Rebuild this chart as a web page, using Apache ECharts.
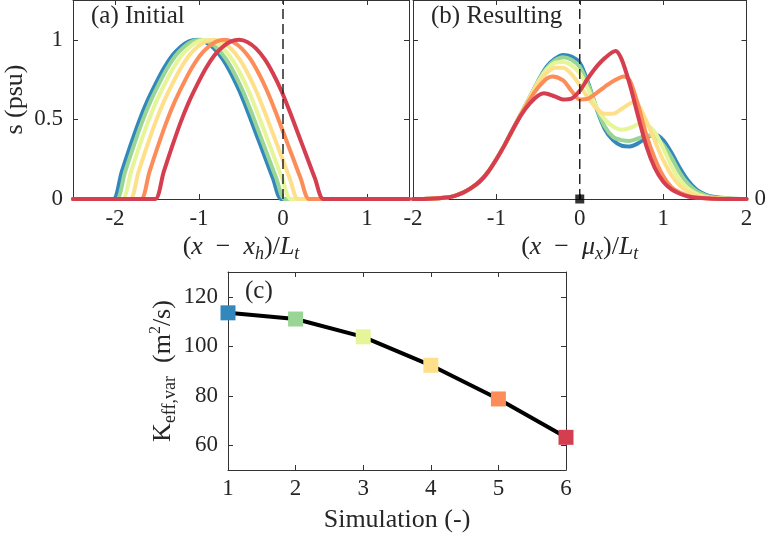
<!DOCTYPE html>
<html><head><meta charset="utf-8">
<script src="https://cdn.jsdelivr.net/npm/echarts@6/dist/echarts.min.js"></script>
<style>html,body{margin:0;padding:0;background:#fff}#c{width:769px;height:536px}</style>
</head><body><div id="c"></div>
<script>
// ---------- data ----------
const colors = ['#3288bd', '#99d594', '#e6f598', '#fee08b', '#fc8d59', '#d53e4f'];

// panel (a): initial salinity profiles, [x, s]
const initBlue = [[-2.5,0],[-2.12,0],[-2.02,0],[-1.92,0.17],[-1.82,0.33],[-1.72,0.48],[-1.62,0.61],[-1.52,0.72],[-1.42,0.82],[-1.32,0.9],[-1.22,0.955],[-1.12,0.99],[-1.02,1],[-0.92,0.985],[-0.82,0.945],[-0.72,0.88],[-0.62,0.79],[-0.52,0.68],[-0.42,0.55],[-0.32,0.41],[-0.22,0.27],[-0.12,0.13],[-0.02,0],[0.08,0],[1.5,0]];
const initGreen = [[-2.5,0],[-2.08,0],[-1.98,0],[-1.88,0.17],[-1.78,0.33],[-1.68,0.48],[-1.58,0.61],[-1.48,0.72],[-1.38,0.82],[-1.28,0.9],[-1.18,0.955],[-1.08,0.99],[-0.98,1],[-0.88,0.985],[-0.78,0.945],[-0.68,0.88],[-0.58,0.79],[-0.48,0.68],[-0.38,0.55],[-0.28,0.41],[-0.18,0.27],[-0.08,0.13],[0.02,0],[0.12,0],[1.5,0]];
const initLime = [[-2.5,0],[-2.01,0],[-1.91,0],[-1.81,0.17],[-1.71,0.33],[-1.61,0.48],[-1.51,0.61],[-1.41,0.72],[-1.31,0.82],[-1.21,0.9],[-1.11,0.955],[-1.01,0.99],[-0.91,1],[-0.81,0.985],[-0.71,0.945],[-0.61,0.88],[-0.51,0.79],[-0.41,0.68],[-0.31,0.55],[-0.21,0.41],[-0.11,0.27],[-0.01,0.13],[0.09,0],[0.19,0],[1.5,0]];
const initYellow = [[-2.5,0],[-1.92,0],[-1.82,0],[-1.72,0.17],[-1.62,0.33],[-1.52,0.48],[-1.42,0.61],[-1.32,0.72],[-1.22,0.82],[-1.12,0.9],[-1.02,0.955],[-0.92,0.99],[-0.82,1],[-0.72,0.985],[-0.62,0.945],[-0.52,0.88],[-0.42,0.79],[-0.32,0.68],[-0.22,0.55],[-0.12,0.41],[-0.02,0.27],[0.08,0.13],[0.18,0],[0.28,0],[1.5,0]];
const initOrange = [[-2.5,0],[-1.79,0],[-1.69,0],[-1.59,0.17],[-1.49,0.33],[-1.39,0.48],[-1.29,0.61],[-1.19,0.72],[-1.09,0.82],[-0.99,0.9],[-0.89,0.955],[-0.79,0.99],[-0.69,1],[-0.59,0.985],[-0.49,0.945],[-0.39,0.88],[-0.29,0.79],[-0.19,0.68],[-0.09,0.55],[0.01,0.41],[0.11,0.27],[0.21,0.13],[0.31,0],[0.41,0],[1.5,0]];
const initRed = [[-2.5,0],[-1.62,0],[-1.52,0],[-1.42,0.17],[-1.32,0.33],[-1.22,0.48],[-1.12,0.61],[-1.02,0.72],[-0.92,0.82],[-0.82,0.9],[-0.72,0.955],[-0.62,0.99],[-0.52,1],[-0.42,0.985],[-0.32,0.945],[-0.22,0.88],[-0.12,0.79],[-0.02,0.68],[0.08,0.55],[0.18,0.41],[0.28,0.27],[0.38,0.13],[0.48,0],[0.58,0],[1.5,0]];

// panel (b): resulting salinity profiles, [x, s]
const resBlue = [[-2,0],[-1.8,0.002],[-1.6,0.01],[-1.5,0.02],[-1.4,0.04],[-1.3,0.07],[-1.2,0.11],[-1.1,0.17],[-1.0,0.25],[-0.9,0.34],[-0.8,0.44],[-0.7,0.54],[-0.6,0.64],[-0.5,0.74],[-0.4,0.83],[-0.3,0.88],[-0.2,0.905],[-0.1,0.895],[0,0.855],[0.1,0.73],[0.2,0.57],[0.3,0.44],[0.4,0.37],[0.5,0.335],[0.6,0.33],[0.7,0.35],[0.8,0.385],[0.9,0.405],[1.0,0.37],[1.1,0.29],[1.2,0.195],[1.3,0.115],[1.4,0.06],[1.5,0.03],[1.6,0.014],[1.8,0.003],[2.0,0]];
const resGreen = [[-2,0],[-1.8,0.002],[-1.6,0.01],[-1.5,0.02],[-1.4,0.04],[-1.3,0.07],[-1.2,0.11],[-1.1,0.17],[-1.0,0.25],[-0.9,0.34],[-0.8,0.44],[-0.7,0.54],[-0.6,0.64],[-0.5,0.74],[-0.4,0.82],[-0.3,0.87],[-0.2,0.89],[-0.1,0.875],[0,0.83],[0.1,0.72],[0.2,0.575],[0.3,0.455],[0.4,0.39],[0.5,0.37],[0.6,0.365],[0.7,0.38],[0.8,0.4],[0.9,0.39],[1.0,0.34],[1.1,0.26],[1.2,0.165],[1.3,0.095],[1.4,0.05],[1.5,0.025],[1.6,0.011],[1.8,0.002],[2.0,0]];
const resLime = [[-2,0],[-1.8,0.002],[-1.6,0.01],[-1.5,0.02],[-1.4,0.04],[-1.3,0.07],[-1.2,0.11],[-1.1,0.17],[-1.0,0.25],[-0.9,0.34],[-0.8,0.44],[-0.7,0.54],[-0.6,0.64],[-0.5,0.735],[-0.4,0.81],[-0.3,0.855],[-0.2,0.86],[-0.1,0.84],[0,0.79],[0.1,0.69],[0.2,0.58],[0.3,0.5],[0.4,0.455],[0.5,0.435],[0.6,0.445],[0.7,0.47],[0.75,0.476],[0.8,0.47],[0.9,0.42],[1.0,0.32],[1.1,0.205],[1.2,0.12],[1.3,0.065],[1.4,0.033],[1.5,0.015],[1.6,0.007],[1.8,0.001],[2.0,0]];
const resYellow = [[-2,0],[-1.8,0.002],[-1.6,0.01],[-1.5,0.02],[-1.4,0.04],[-1.3,0.07],[-1.2,0.11],[-1.1,0.17],[-1.0,0.25],[-0.9,0.34],[-0.8,0.44],[-0.7,0.54],[-0.6,0.635],[-0.5,0.725],[-0.4,0.79],[-0.3,0.825],[-0.2,0.825],[-0.1,0.785],[0,0.715],[0.1,0.635],[0.2,0.57],[0.3,0.535],[0.4,0.535],[0.5,0.565],[0.6,0.6],[0.65,0.61],[0.7,0.595],[0.8,0.49],[0.9,0.365],[1.0,0.245],[1.1,0.15],[1.2,0.085],[1.3,0.045],[1.4,0.022],[1.5,0.01],[1.6,0.004],[1.8,0.001],[2.0,0]];
const resOrange = [[-2,0],[-1.8,0.002],[-1.6,0.01],[-1.5,0.02],[-1.4,0.04],[-1.3,0.07],[-1.2,0.11],[-1.1,0.17],[-1.0,0.25],[-0.9,0.34],[-0.8,0.44],[-0.7,0.535],[-0.6,0.625],[-0.5,0.7],[-0.4,0.755],[-0.33,0.77],[-0.2,0.745],[-0.1,0.68],[0,0.625],[0.1,0.63],[0.2,0.665],[0.3,0.705],[0.4,0.74],[0.53,0.77],[0.6,0.745],[0.7,0.59],[0.8,0.4],[0.9,0.255],[1.0,0.145],[1.1,0.075],[1.2,0.04],[1.3,0.02],[1.4,0.01],[1.6,0.002],[2.0,0]];
const resRed = [[-2,0],[-1.8,0.002],[-1.6,0.01],[-1.5,0.02],[-1.4,0.04],[-1.3,0.07],[-1.2,0.11],[-1.1,0.17],[-1.0,0.25],[-0.9,0.34],[-0.8,0.44],[-0.7,0.53],[-0.6,0.6],[-0.5,0.65],[-0.43,0.665],[-0.3,0.645],[-0.2,0.625],[-0.1,0.63],[0,0.68],[0.1,0.76],[0.2,0.83],[0.3,0.885],[0.43,0.93],[0.5,0.88],[0.6,0.72],[0.7,0.52],[0.8,0.33],[0.9,0.195],[1.0,0.11],[1.1,0.06],[1.2,0.033],[1.3,0.016],[1.4,0.008],[1.6,0.002],[2.0,0]];

// reference lines / markers
const dashA = [[0,0],[0,1.25]];
const dashB = [[0,0],[0,1.25]];
const centerMark = [[0,0]];

// panel (c)
const simulations = [1, 2, 3, 4, 5, 6];
const keffVar = [113.5, 111, 103.8, 92.3, 78.7, 63.2];

// ticks
const ticksAx = [-2, -1, 0, 1];
const ticksBx = [-2, -1, 0, 1, 2];
const ticksSy = [0, 0.5, 1];
const ticksBright = [0];
const ticksCx = [1, 2, 3, 4, 5, 6];
const ticksCy = [60, 80, 100, 120];

// ---------- chart ----------
const FONT = '"Liberation Serif", serif';
const TXT = '#262626';
const AX = '#333333';
const chart = echarts.init(document.getElementById('c'), null, {renderer: 'canvas'});

function axLine() { return {show: true, onZero: false, lineStyle: {color: AX, width: 1}}; }
function tick(vals) { return {show: true, inside: true, length: 5, customValues: vals, lineStyle: {color: AX, width: 1}}; }
function lab(vals, margin, show) {
  return {show: show, customValues: vals, margin: margin, fontFamily: FONT, fontSize: 23, color: TXT,
          formatter: v => String(v)};
}
const richMath = {
  i: {fontFamily: FONT, fontStyle: 'italic', fontSize: 26, color: TXT, lineHeight: 32},
  r: {fontFamily: FONT, fontSize: 26, color: TXT, lineHeight: 32},
  s: {fontFamily: FONT, fontStyle: 'italic', fontSize: 18, color: TXT, lineHeight: 32, verticalAlign: 'bottom'}
};
const richK = {
  r: {fontFamily: FONT, fontSize: 26, color: TXT, lineHeight: 32},
  s: {fontFamily: FONT, fontSize: 18, color: TXT, lineHeight: 32, verticalAlign: 'bottom'},
  p: {fontFamily: FONT, fontSize: 16, color: TXT, lineHeight: 32, verticalAlign: 'top'}
};

function curve(data, color, xi, yi) {
  return {type: 'line', data: data, xAxisIndex: xi, yAxisIndex: yi, symbol: 'none', smooth: 0.3,
          lineStyle: {color: color, width: 4, cap: 'round', join: 'round'}, silent: true, z: 3};
}
function dashLine(data, xi, yi) {
  return {type: 'line', data: data, xAxisIndex: xi, yAxisIndex: yi, symbol: 'none',
          lineStyle: {color: '#262626', width: 1.5, type: [10, 5]}, silent: true, z: 5};
}

const option = {
  animation: false,
  backgroundColor: '#ffffff',
  textStyle: {fontFamily: FONT},
  grid: [
    {left: 73, top: 0, width: 336, height: 199, containLabel: false},
    {left: 413, top: 0, width: 336, height: 199, containLabel: false},
    {left: 228, top: 272, width: 338, height: 198, containLabel: false}
  ],
  xAxis: [
    {type: 'value', gridIndex: 0, position: 'bottom', min: -2.5, max: 1.5,
     axisLine: axLine(), axisTick: tick(ticksAx), axisLabel: lab(ticksAx, 8, true), splitLine: {show: false},
     name: '{r|(}{i|x}{r|  −  }{i|x}{s|h}{r|)/}{i|L}{s|t}', nameLocation: 'middle', nameGap: 32,
     nameTextStyle: {rich: richMath}},
    {type: 'value', gridIndex: 0, position: 'top', min: -2.5, max: 1.5,
     axisLine: axLine(), axisTick: tick(ticksAx), axisLabel: {show: false}, splitLine: {show: false}},
    {type: 'value', gridIndex: 1, position: 'bottom', min: -2, max: 2,
     axisLine: axLine(), axisTick: tick(ticksBx), axisLabel: lab(ticksBx, 8, true), splitLine: {show: false},
     name: '{r|(}{i|x}{r|  −  }{i|μ}{s|x}{r|)/}{i|L}{s|t}', nameLocation: 'middle', nameGap: 32,
     nameTextStyle: {rich: richMath}},
    {type: 'value', gridIndex: 1, position: 'top', min: -2, max: 2,
     axisLine: axLine(), axisTick: tick(ticksBx), axisLabel: {show: false}, splitLine: {show: false}},
    {type: 'value', gridIndex: 2, position: 'bottom', min: 1, max: 6,
     axisLine: axLine(), axisTick: tick(ticksCx), axisLabel: lab(ticksCx, 7, true), splitLine: {show: false},
     name: 'Simulation (-)', nameLocation: 'middle', nameGap: 37,
     nameTextStyle: {fontFamily: FONT, fontSize: 26, color: TXT}},
    {type: 'value', gridIndex: 2, position: 'top', min: 1, max: 6,
     axisLine: axLine(), axisTick: tick(ticksCx), axisLabel: {show: false}, splitLine: {show: false}}
  ],
  yAxis: [
    {type: 'value', gridIndex: 0, position: 'left', min: 0, max: 1.25,
     axisLine: axLine(), axisTick: tick(ticksSy), axisLabel: lab(ticksSy, 10, true), splitLine: {show: false},
     name: 's (psu)', nameLocation: 'middle', nameGap: 45,
     nameTextStyle: {fontFamily: FONT, fontSize: 26, color: TXT}},
    {type: 'value', gridIndex: 0, position: 'right', min: 0, max: 1.25,
     axisLine: axLine(), axisTick: tick(ticksSy), axisLabel: {show: false}, splitLine: {show: false}},
    {type: 'value', gridIndex: 1, position: 'left', min: 0, max: 1.25,
     axisLine: axLine(), axisTick: tick(ticksSy), axisLabel: {show: false}, splitLine: {show: false}},
    {type: 'value', gridIndex: 1, position: 'right', min: 0, max: 1.25,
     axisLine: axLine(), axisTick: tick(ticksSy), axisLabel: lab(ticksBright, 8, true), splitLine: {show: false}},
    {type: 'value', gridIndex: 2, position: 'left', min: 50, max: 130,
     axisLine: axLine(), axisTick: tick(ticksCy), axisLabel: lab(ticksCy, 10, true), splitLine: {show: false},
     name: '{r|K}{s|eff,var}{r|  (m}{p|2}{r|/s)}', nameLocation: 'middle', nameGap: 34,
     nameTextStyle: {rich: richK}},
    {type: 'value', gridIndex: 2, position: 'right', min: 50, max: 130,
     axisLine: axLine(), axisTick: tick(ticksCy), axisLabel: {show: false}, splitLine: {show: false}}
  ],
  graphic: [
    {type: 'text', left: 91, top: 4, style: {text: '(a) Initial', font: '25px "Liberation Serif"', fill: TXT}},
    {type: 'text', left: 431, top: 4, style: {text: '(b) Resulting', font: '25px "Liberation Serif"', fill: TXT}},
    {type: 'text', left: 245, top: 279, style: {text: '(c)', font: '25px "Liberation Serif"', fill: TXT}}
  ],
  series: [
    curve(initBlue, colors[0], 0, 0),
    curve(initGreen, colors[1], 0, 0),
    curve(initLime, colors[2], 0, 0),
    curve(initYellow, colors[3], 0, 0),
    curve(initOrange, colors[4], 0, 0),
    curve(initRed, colors[5], 0, 0),
    dashLine(dashA, 0, 0),
    curve(resBlue, colors[0], 2, 2),
    curve(resGreen, colors[1], 2, 2),
    curve(resLime, colors[2], 2, 2),
    curve(resYellow, colors[3], 2, 2),
    curve(resOrange, colors[4], 2, 2),
    curve(resRed, colors[5], 2, 2),
    dashLine(dashB, 2, 2),
    {type: 'scatter', data: centerMark, xAxisIndex: 2, yAxisIndex: 2, symbol: 'rect', symbolSize: 9,
     itemStyle: {color: '#000'}, silent: true, z: 6},
    {type: 'line', xAxisIndex: 4, yAxisIndex: 4, silent: true, z: 3,
     data: simulations.map((s, i) => ({value: [s, keffVar[i]], itemStyle: {color: colors[i]}})),
     lineStyle: {color: '#000', width: 4}, symbol: 'rect', symbolSize: 15, showAllSymbol: true}
  ]
};
chart.setOption(option);
</script>
</body></html>
